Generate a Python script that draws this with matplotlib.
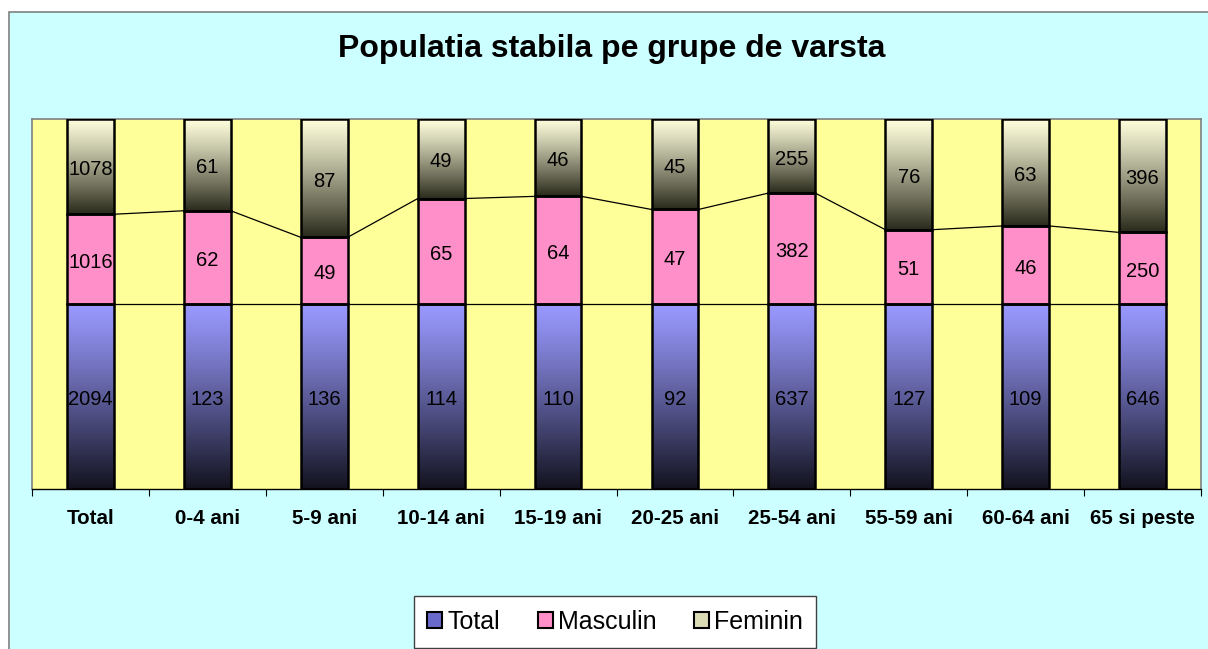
import numpy as np
import matplotlib
matplotlib.use("Agg")
import matplotlib.pyplot as plt
from matplotlib.patches import Rectangle, Patch
from matplotlib.colors import to_rgb

plt.rcParams['font.family'] = ['Liberation Sans', 'DejaVu Sans']

categories = ["Total", "0-4 ani", "5-9 ani", "10-14 ani", "15-19 ani",
              "20-25 ani", "25-54 ani", "55-59 ani", "60-64 ani", "65 si peste"]
total = [2094, 123, 136, 114, 110, 92, 637, 127, 109, 646]
masculin = [1016, 62, 49, 65, 64, 47, 382, 51, 46, 250]
feminin = [1078, 61, 87, 49, 46, 45, 255, 76, 63, 396]
series_names = ["Total", "Masculin", "Feminin"]

W, H = 1208, 649
fig = plt.figure(figsize=(W / 100, H / 100), dpi=100)
fig.patch.set_facecolor("white")
# chart area (cyan) with gray border, cut at right/bottom
fig.patches.append(Rectangle((9 / W, -0.1), 1.2, 1.1 - 12 / H, transform=fig.transFigure,
                             facecolor="#CCFFFF", edgecolor="#808080", lw=1.2, zorder=-5))

ax = fig.add_axes([32 / W, 1 - 489 / H, (1201 - 32) / W, (489 - 119) / H])
ax.set_zorder(2)
ax.set_facecolor("#FFFF99")
for s in ["top", "left", "right"]:
    ax.spines[s].set_color("#808080")
    ax.spines[s].set_linewidth(1.2)
ax.spines["bottom"].set_color("black")
ax.spines["bottom"].set_linewidth(1.0)

data = np.array([total, masculin, feminin], dtype=float)
frac = data / data.sum(axis=0)
cum = np.vstack([np.zeros(len(categories)), np.cumsum(frac, axis=0)])

grads = [("#9999FF", "#12121E"), (None, None), ("#FFFFDD", "#2A2A1C")]
solid_pink = "#FF8FC8"
bw = 0.4
n = len(categories)
x = np.arange(n)

for si in range(3):
    for i in range(n):
        y0, y1 = cum[si, i], cum[si + 1, i]
        x0, x1 = x[i] - bw / 2, x[i] + bw / 2
        top, bot = grads[si]
        if top is None:
            ax.add_patch(Rectangle((x0, y0), bw, y1 - y0, facecolor=solid_pink,
                                   edgecolor="none", zorder=2))
        else:
            t = np.linspace(0, 1, 200)[:, None]
            t = t ** 1.15
            c0, c1 = np.array(to_rgb(top)), np.array(to_rgb(bot))
            img = (c0 * (1 - t) + c1 * t)[:, None, :]
            ax.imshow(img, extent=(x0, x1, y0, y1), origin="upper",
                      aspect="auto", zorder=2, interpolation="bilinear")
        ax.add_patch(Rectangle((x0, y0), bw, y1 - y0, facecolor="none",
                               edgecolor="black", lw=1.8, zorder=3))
        ax.annotate(f"{int(data[si, i])}", (x[i], (y0 + y1) / 2),
                    xytext=(0, -2.2), textcoords="offset points",
                    ha="center", va="center", fontsize=14.5, color="black", zorder=4)

# series lines
for si in range(1, 3):
    for i in range(n - 1):
        ax.plot([x[i] + bw / 2, x[i + 1] - bw / 2], [cum[si, i], cum[si, i + 1]],
                color="black", lw=0.9, zorder=1.5)

ax.set_xlim(-0.5, n - 0.5)
ax.set_ylim(0, 1)
ax.set_yticks([])
ax.set_xticks(np.arange(-0.5, n, 1.0))
ax.set_xticklabels([])
ax.set_xticks(x, minor=True)
ax.set_xticklabels(categories, minor=True, fontsize=14.8, fontweight="bold")
ax.tick_params(axis="x", which="major", length=5, direction="out", color="black")
ax.tick_params(axis="x", which="minor", length=0, pad=14.5)

fig.text(612 / W, 1 - 49 / H, "Populatia stabila pe grupe de varsta",
         ha="center", va="center", fontsize=23, fontweight="bold")

handles = [Patch(facecolor="#6A6ACC", edgecolor="black", lw=1.5),
           Patch(facecolor=solid_pink, edgecolor="black", lw=1.5),
           Patch(facecolor="#DCDCB4", edgecolor="black", lw=1.5)]
leg = fig.legend(handles, series_names, loc="center", bbox_to_anchor=(615 / W, 1 - 622 / H),
                 ncol=3, fontsize=18, frameon=True, fancybox=False, framealpha=1,
                 handlelength=0.6, handleheight=0.6, handletextpad=0.2,
                 columnspacing=1.5, borderpad=0.55, borderaxespad=0)
leg.get_frame().set_edgecolor("#404040")
leg.get_frame().set_linewidth(1.0)
leg.get_frame().set_facecolor("white")

fig.savefig("out.png", dpi=100)
